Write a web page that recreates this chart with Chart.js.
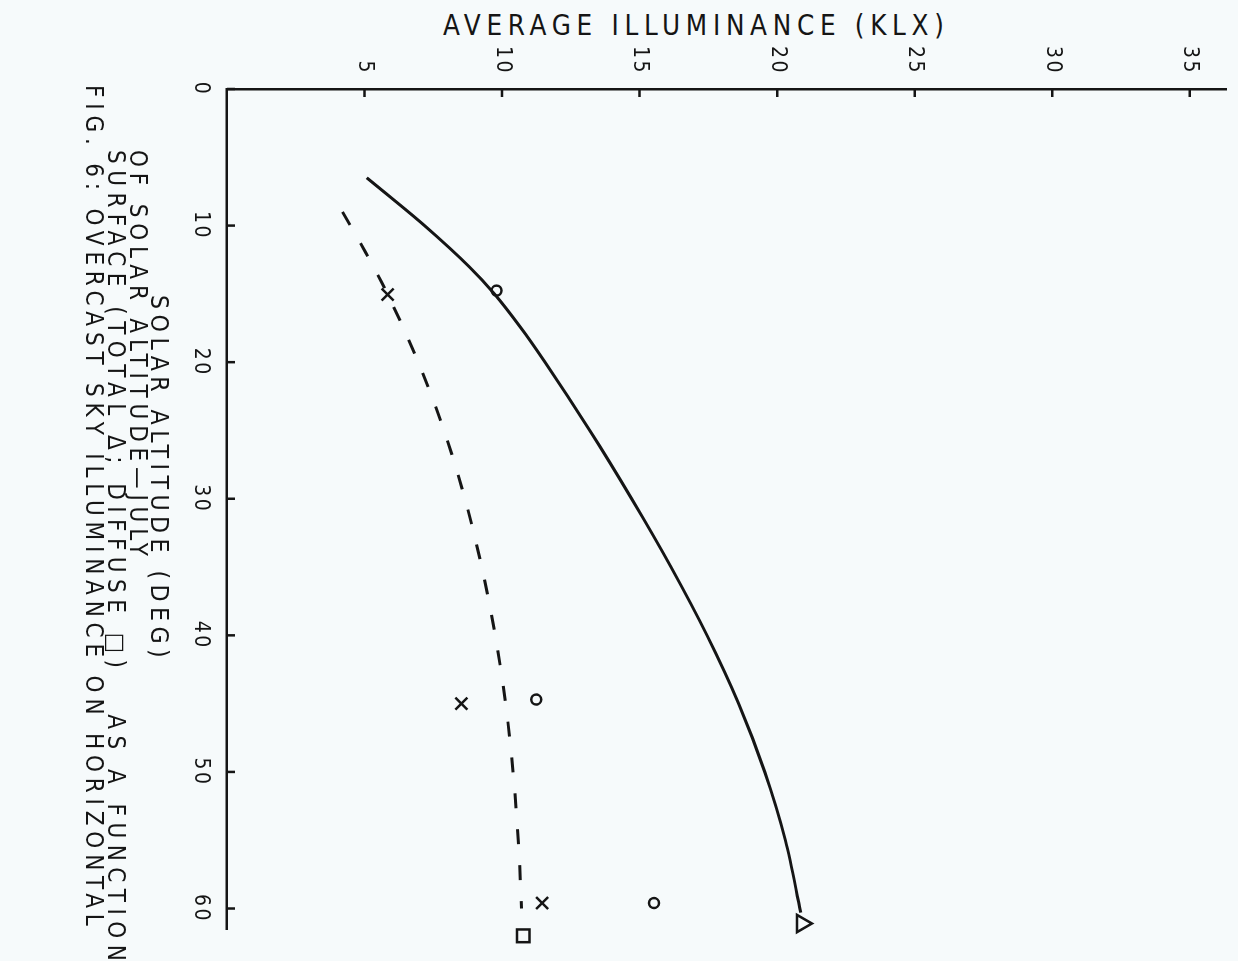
<!DOCTYPE html>
<html>
<head>
<meta charset="utf-8">
<script src="https://cdn.jsdelivr.net/npm/chart.js@4/dist/chart.umd.min.js"></script>
<style>
  html, body { margin: 0; padding: 0; background: #f6fafb; }
  body { width: 1238px; height: 961px; overflow: hidden; position: relative; color: #151515;
         font-family: 'DejaVu Sans Condensed', 'DejaVu Sans', sans-serif; font-stretch: condensed; }
  /* the plot is laid out upright and then turned a quarter turn clockwise */
  #sheet { position: absolute; left: 0; top: 0; width: 961px; height: 1238px;
           transform-origin: 0 0; transform: translateX(1238px) rotate(90deg); }
  #chart { position: absolute; left: 0; top: 0; }
  .label { position: absolute; white-space: pre; }
  #yTitle { left: 443px; top: 11.7px; font-size: 27.5px; line-height: 27.5px; letter-spacing: 5.7px; }
  #xTitle { left: 295px; top: 1067px; font-size: 24.7px; line-height: 24.7px; letter-spacing: 5.4px; }
  #caption { position: absolute; left: 85px; top: 1088.7px; font-size: 24px; line-height: 22px; letter-spacing: 5.8px; }
  #caption div { white-space: pre; }
  #caption .indent { padding-left: 65px; }
  #caption .wide { letter-spacing: 6.45px; }
</style>
</head>
<body>
<div id="yTitle" class="label">AVERAGE ILLUMINANCE (KLX)</div>
<div id="sheet">
  <canvas id="chart" width="961" height="1238"></canvas>
  <div id="xTitle" class="label">SOLAR ALTITUDE (DEG)</div>
  <div id="caption">
    <div class="indent">OF SOLAR ALTITUDE—JULY</div>
    <div class="indent wide">SURFACE (TOTAL Δ; DIFFUSE □)   AS A FUNCTION</div>
    <div>FIG. 6: OVERCAST SKY ILLUMINANCE ON HORIZONTAL</div>
  </div>
</div>
<script>
// Axis ticks
const altitudeTicks = [0, 10, 20, 30, 40, 50, 60];
const illuminanceTicks = [5, 10, 15, 20, 25, 30, 35];

// Fitted curve, total illuminance (solid)
const totalAltitude = [6.5, 10, 13, 15, 17.5, 20, 25, 30, 35, 40, 45, 50, 55, 60.3];
const totalKlx      = [5.08, 7.18, 8.80, 9.72, 10.69, 11.56, 13.19, 14.71, 16.14, 17.45, 18.60, 19.55, 20.30, 20.86];

// Fitted curve, diffuse illuminance (dashed)
const diffuseAltitude = [9, 12, 15, 20, 25, 30, 35, 40, 45, 50, 55, 60];
const diffuseKlx      = [4.2, 5.05, 5.83, 6.95, 7.89, 8.65, 9.26, 9.75, 10.13, 10.40, 10.59, 10.71];

// Plotted observations
const circleAltitude = [14.76, 44.7, 59.6];
const circleKlx      = [9.8, 11.24, 15.52];
const crossAltitude  = [15.05, 45.0, 59.6];
const crossKlx       = [5.84, 8.52, 11.46];
const triangleAltitude = [61.1];
const triangleKlx      = [20.9];
const squareAltitude = [62.0];
const squareKlx      = [10.77];

const ink = '#151515';
const tickFont = { family: "'DejaVu Sans Condensed', 'DejaVu Sans'", size: 21 };
const pairs = (xs, ys) => xs.map((x, i) => ({ x, y: ys[i] }));

// slightly spaced digits on the scales
const letterSpacing = {
  id: 'letterSpacing',
  beforeUpdate(chart) { chart.ctx.letterSpacing = '2.5px'; },
  beforeDraw(chart) { chart.ctx.letterSpacing = '2.5px'; }
};

// short tick marks pointing into the plot
const inwardTicks = {
  id: 'inwardTicks',
  beforeDatasetsDraw(chart) {
    const { ctx, chartArea, scales: { x, y } } = chart;
    const len = 8;
    ctx.save();
    ctx.strokeStyle = ink;
    ctx.lineWidth = 2.5;
    ctx.beginPath();
    altitudeTicks.forEach(v => {
      const px = x.getPixelForValue(v);
      ctx.moveTo(px, chartArea.bottom);
      ctx.lineTo(px, chartArea.bottom - len);
    });
    illuminanceTicks.forEach(v => {
      const py = y.getPixelForValue(v);
      ctx.moveTo(chartArea.left, py);
      ctx.lineTo(chartArea.left + len, py);
    });
    ctx.stroke();
    ctx.restore();
  }
};

const marker = (label, xs, ys, style, radius) => ({
  label, data: pairs(xs, ys), showLine: false, clip: false,
  pointStyle: style, pointRadius: radius, pointHoverRadius: radius,
  pointBorderWidth: 2.5, pointBorderColor: ink, pointBackgroundColor: 'rgba(0,0,0,0)'
});

new Chart(document.getElementById('chart'), {
  type: 'scatter',
  data: {
    datasets: [
      { label: 'Total', data: pairs(totalAltitude, totalKlx), showLine: true,
        borderColor: ink, borderWidth: 3, pointRadius: 0, cubicInterpolationMode: 'monotone', fill: false },
      { label: 'Diffuse', data: pairs(diffuseAltitude, diffuseKlx), showLine: true,
        borderColor: ink, borderWidth: 3, borderDash: [15, 21], pointRadius: 0, cubicInterpolationMode: 'monotone', fill: false },
      marker('Observed o', circleAltitude, circleKlx, 'circle', 5),
      marker('Observed x', crossAltitude, crossKlx, 'crossRot', 8.5),
      marker('Total', triangleAltitude, triangleKlx, 'triangle', 10),
      marker('Diffuse', squareAltitude, squareKlx, 'rect', 9)
    ]
  },
  options: {
    responsive: false,
    animation: false,
    events: [],
    layout: { padding: { top: 8, right: 32, bottom: 188, left: 0 } },
    plugins: { legend: { display: false }, tooltip: { enabled: false } },
    scales: {
      x: {
        type: 'linear', position: 'bottom', min: 0, max: 61.5,
        afterBuildTicks: s => { s.ticks = altitudeTicks.map(value => ({ value })); },
        afterFit: s => { s.height = 39; },
        grid: { display: false, drawTicks: false },
        border: { display: true, color: ink, width: 2.5 },
        ticks: { padding: 14, maxRotation: 0, autoSkip: false, color: ink, font: tickFont }
      },
      y: {
        type: 'linear', position: 'left', min: 0, max: 36.3,
        afterBuildTicks: s => { s.ticks = illuminanceTicks.map(value => ({ value })); },
        afterFit: s => { s.width = 89; s.paddingTop = 0; s.paddingBottom = 0; },
        grid: { display: false, drawTicks: false },
        border: { display: true, color: ink, width: 2.5 },
        ticks: { padding: 14, color: ink, font: tickFont }
      }
    }
  },
  plugins: [letterSpacing, inwardTicks]
});
</script>
</body>
</html>
